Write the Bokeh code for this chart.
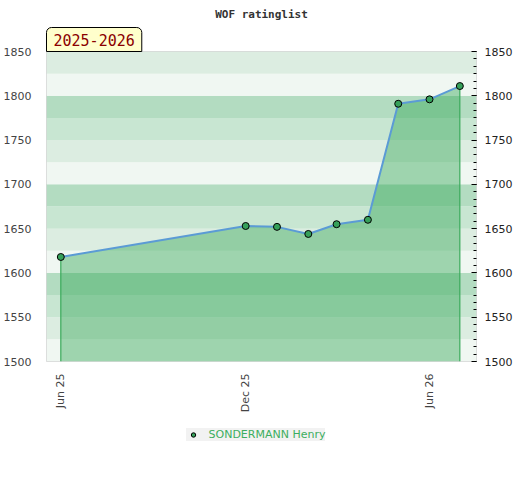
import math
import pandas as pd
from bokeh.plotting import figure
from bokeh.layouts import column
from bokeh.models import (Range1d, FixedTicker, DatetimeTickFormatter, LinearAxis,
                          Legend, LegendItem, BoxAnnotation, Title, ColumnDataSource)
from bokeh.embed import file_html
from bokeh.resources import INLINE

title_text = "WOF ratinglist"
season = "2025-2026"
player = "SONDERMANN Henry"
dates = ["2025-06-01", "2025-12-01", "2026-01-01", "2026-02-01", "2026-03-01",
         "2026-04-01", "2026-05-01", "2026-06-01", "2026-07-01"]
ratings = [1618, 1653, 1652, 1644, 1655, 1660, 1791, 1796, 1811]
x_tick_dates = ["2025-06-01", "2025-12-01", "2026-06-01"]
y_ticks = [1500, 1550, 1600, 1650, 1700, 1750, 1800, 1850]
band_step = 25
minor_per_major = 6

dt = pd.to_datetime(dates)
src = ColumnDataSource(dict(x=dt, y=ratings))

x_start = pd.Timestamp("2025-05-17 20:00")
x_end = pd.Timestamp("2026-07-17 12:00")

p = figure(frame_width=430, frame_height=310, output_backend="svg", toolbar_location=None,
           x_axis_type="datetime",
           x_range=Range1d(x_start, x_end), y_range=Range1d(y_ticks[0], y_ticks[-1]),
           min_border_left=37, min_border_right=37, min_border_top=10, min_border_bottom=60)

p.title.text = title_text
p.title.align = "center"
p.title.text_font = "DejaVu Sans Mono"
p.title.text_font_size = "11px"
p.title.text_font_style = "bold"
p.title.text_color = "#333333"

season_title = Title(text=season, align="left", text_font="DejaVu Sans Mono",
                     text_font_size="15px", text_font_style="normal", text_color="#8b0000",
                     background_fill_color="#ffffcc", border_line_color="black",
                     border_line_width=1, padding=(7, 6), offset=0, standoff=0,
                     border_radius=dict(top_left=5, top_right=5, bottom_right=0, bottom_left=0))
p.add_layout(season_title, "above")

p.background_fill_color = "white"
p.border_fill_color = "white"
p.outline_line_color = "#d6d6d6"
p.xgrid.visible = False
p.ygrid.visible = False

band_colors = {0: "#f0f7f2", 25: "#dcede1", 50: "#c8e6d2", 75: "#b3dcc1"}
b = y_ticks[0]
while b < y_ticks[-1]:
    p.add_layout(BoxAnnotation(bottom=b, top=b + band_step,
                               fill_color=band_colors[b % 100], fill_alpha=1.0,
                               line_color=None, level="underlay"))
    b += band_step

p.varea(x="x", y1=y_ticks[0], y2="y", source=src, fill_color="#2da550", fill_alpha=0.42)
p.segment(x0=[dt[0], dt[-1]], y0=[y_ticks[0]] * 2, x1=[dt[0], dt[-1]],
          y1=[ratings[0], ratings[-1]], line_color="#3aaa5a", line_width=1.2)
p.line(x="x", y="y", source=src, line_color="#5b9bd5", line_width=2)
p.scatter(x="x", y="y", source=src, size=7, fill_color="#36a05a",
          line_color="black", line_width=1)

# x axis
xa = p.xaxis[0]
xa.ticker = FixedTicker(ticks=[pd.Timestamp(d).value / 1e6 for d in x_tick_dates])
xa.formatter = DatetimeTickFormatter(months="%b %y", days="%b %y")
xa.major_label_orientation = math.pi / 2
xa.major_tick_line_color = None
xa.minor_tick_line_color = None
xa.axis_line_color = None
xa.major_label_text_font = "DejaVu Sans"
xa.major_label_text_font_size = "11px"
xa.major_label_text_color = "#444444"
xa.major_label_standoff = 6

# left axis
ya = p.yaxis[0]
ya.ticker = FixedTicker(ticks=y_ticks)
ya.major_tick_line_color = None
ya.minor_tick_line_color = None
ya.axis_line_color = None
ya.major_label_text_font = "DejaVu Sans"
ya.major_label_text_font_size = "11px"
ya.major_label_text_color = "#444444"
ya.major_label_standoff = 9

# right axis
major_step = y_ticks[1] - y_ticks[0]
minor_ticks = [y_ticks[0] + k * major_step / minor_per_major
               for k in range(minor_per_major * (len(y_ticks) - 1) + 1)]
ra = LinearAxis(ticker=FixedTicker(ticks=y_ticks, minor_ticks=minor_ticks))
ra.axis_line_color = None
ra.major_tick_in = 5
ra.major_tick_out = 0
ra.minor_tick_in = 3
ra.minor_tick_out = 0
ra.major_tick_line_color = "black"
ra.minor_tick_line_color = "black"
ra.major_label_text_font = "DejaVu Sans"
ra.major_label_text_font_size = "11px"
ra.major_label_text_color = "#222222"
ra.major_label_standoff = 8
p.add_layout(ra, "right")

# legend in a small companion figure below (its proxy glyph falls outside the view)
p2 = figure(width=504, height=40, output_backend="svg", toolbar_location=None,
            x_range=Range1d(0, 1), y_range=Range1d(0, 1),
            min_border_left=0, min_border_right=0, min_border_top=0, min_border_bottom=0)
p2.xaxis.visible = False
p2.yaxis.visible = False
p2.xgrid.visible = False
p2.ygrid.visible = False
p2.outline_line_color = None
p2.background_fill_color = "white"
p2.border_fill_color = "white"
lg = p2.scatter(x="x", y="y", source=src, size=7, fill_color="#36a05a",
                line_color="black", line_width=1)

legend = Legend(items=[LegendItem(label=player, renderers=[lg])],
                location="top_center",
                orientation="horizontal", background_fill_color="#f2f2f2",
                background_fill_alpha=1.0, border_line_color=None,
                label_text_color="#3cae60", label_text_font="DejaVu Sans",
                label_text_font_size="11px", glyph_width=14, glyph_height=11,
                label_height=11, padding=4, margin=7, spacing=0, label_standoff=9)
p2.add_layout(legend)

open("out.html", "w").write(file_html(column(p, p2, spacing=0), INLINE))
